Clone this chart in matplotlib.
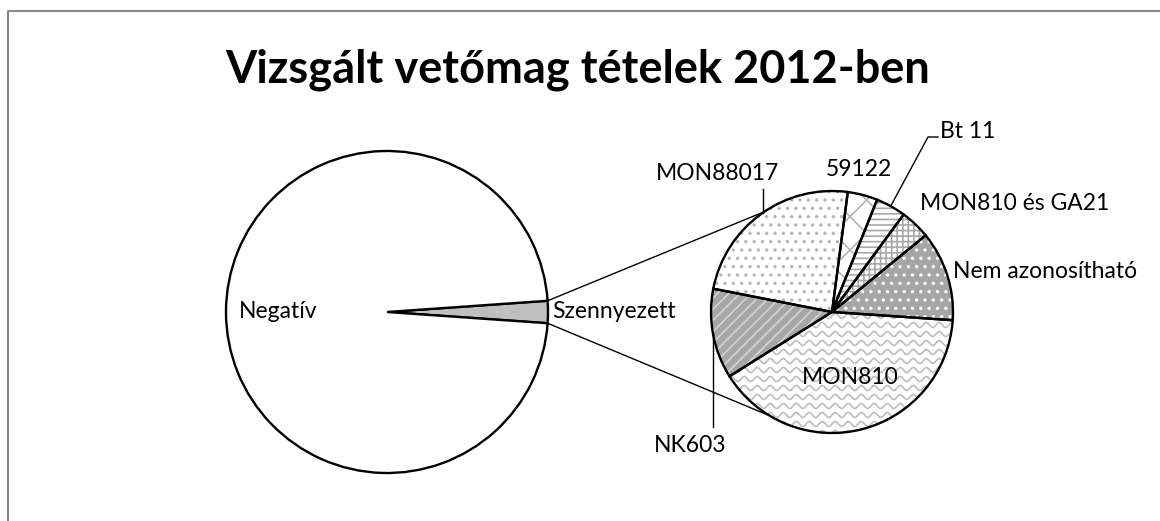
import numpy as np
import matplotlib.pyplot as plt
from matplotlib.patches import Wedge

plt.rcParams['font.family'] = ['Lato', 'DejaVu Sans']
plt.rcParams['hatch.linewidth'] = 1.2

title = 'Vizsgált vetőmag tételek 2012-ben'

# main pie
main_labels = ['Szennyezett', 'Negatív']
main_values = [25, 1100]

# secondary pie (the contaminated lots)
sub_labels = ['59122', 'Bt 11', 'MON810 és GA21', 'Nem azonosítható', 'MON810', 'NK603', 'MON88017']
sub_values = [1, 1, 1, 3, 10, 3, 6]

W, H = 1160, 521
fig = plt.figure(figsize=(W / 100, H / 100), dpi=100)
ax = fig.add_axes([0, 0, 1, 1])

cL, rL = (387, 209), 161
cR, rR = (832, 209), 121

# left pie, small slice centred on the right
ang = 360 * main_values[0] / sum(main_values)
wl, _ = ax.pie(main_values, center=cL, radius=rL, startangle=-ang / 2,
               colors=['#bfbfbf', 'white'],
               wedgeprops=dict(edgecolor='black', linewidth=1.7))

# right pie
wr, _ = ax.pie(sub_values, center=cR, radius=rR, startangle=82.5, counterclock=False,
               colors=['none'] * len(sub_values),
               wedgeprops=dict(edgecolor='black', linewidth=1.7, zorder=3))

face = ['white', 'white', 'white', '#a6a6a6', 'white', '#a6a6a6', 'white']
hatch = ['x', '---', '+++', '..', None, '///', '..']
hcol = ['#b4b4b4', '#a8a8a8', '#a8a8a8', 'white', '#bdbdbd', '#d4d4d4', '#b4b4b4']
for w, f, h, hc in zip(wr, face, hatch, hcol):
    bg = Wedge(w.center, w.r, w.theta1, w.theta2, facecolor=f, edgecolor=hc,
               linewidth=0, hatch=h, zorder=2)
    ax.add_patch(bg)
    if h is None:
        # wavy texture
        xs = np.linspace(cR[0] - rR, cR[0] + rR, 600)
        for y0 in np.arange(cR[1] - rR, cR[1] + rR, 9):
            ln, = ax.plot(xs, y0 + 2.5 * np.sin(2 * np.pi * xs / 13), color=hc, lw=1.2, zorder=2.5)
            ln.set_clip_path(bg)

# connector lines between the pies
s = wl[0]
for a_l, a_r in [(s.theta2, 124), (s.theta1, -121)]:
    p1 = (cL[0] + rL * np.cos(np.radians(a_l)), cL[1] + rL * np.sin(np.radians(a_l)))
    p2 = (cR[0] + rR * np.cos(np.radians(a_r)), cR[1] + rR * np.sin(np.radians(a_r)))
    ax.plot([p1[0], p2[0]], [p1[1], p2[1]], color='black', lw=1.0, zorder=4)

fs = 16.5
ax.text(278, 209, main_labels[1], ha='center', va='center', fontsize=fs)
ax.text(552, 209, main_labels[0], ha='left', va='center', fontsize=fs)

ax.text(859, 351, sub_labels[0], ha='center', va='center', fontsize=fs)
ax.text(940, 390, sub_labels[1], ha='left', va='center', fontsize=fs)
ax.text(920, 317, sub_labels[2], ha='left', va='center', fontsize=fs)
ax.text(953, 249, sub_labels[3], ha='left', va='center', fontsize=fs)
ax.text(850, 144, sub_labels[4], ha='center', va='center', fontsize=fs, zorder=5)
ax.text(690, 76, sub_labels[5], ha='center', va='center', fontsize=fs)
ax.text(717, 348, sub_labels[6], ha='center', va='center', fontsize=fs)

# leader lines
def on_right(a):
    return cR[0] + rR * np.cos(np.radians(a)), cR[1] + rR * np.sin(np.radians(a))

px, py = on_right(125)
ax.plot([px, px], [py, 332], color='black', lw=1.0, zorder=4)
px, py = on_right(61)
ax.plot([px, 928, 938], [py, 384, 384], color='black', lw=1.0, zorder=4)
px, py = on_right(190)
ax.plot([px, px], [py, 94], color='black', lw=1.0, zorder=4)

ax.text(578, 451, title, ha='center', va='center', fontsize=32.5, fontweight='bold')

# chart area border (cut by the image edge)
ax.plot([8, 8, W], [0, 510, 510], color='#888888', lw=1.5, zorder=1)

ax.set_xlim(0, W)
ax.set_ylim(0, H)
ax.set_aspect('equal')
ax.axis('off')
fig.savefig('out.png', dpi=100)
